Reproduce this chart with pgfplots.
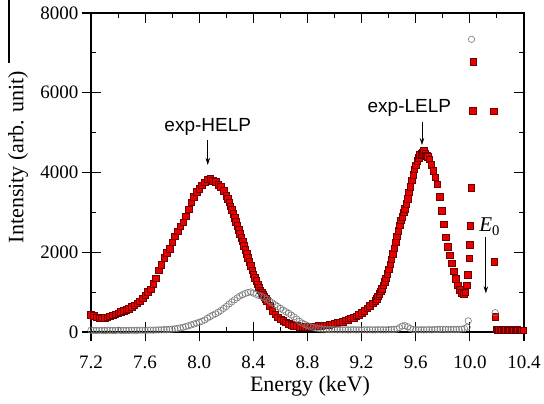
\documentclass[border=0pt]{standalone}
\usepackage{pgfplots}
\pgfplotsset{compat=1.18}
\usepackage{pgfplotstable}
\usepackage{fontspec}
\setmainfont{Liberation Serif}
\newfontfamily\arialfont{Liberation Sans}
\usetikzlibrary{arrows.meta}

\definecolor{sqred}{RGB}{232,0,0}
\definecolor{sqedge}{RGB}{110,0,0}
\definecolor{circgray}{RGB}{120,120,120}

% energy-loss spectrum (red squares)
\pgfplotstableread{
E I
7.20 440
7.22 405
7.24 372
7.26 356
7.28 348
7.30 357
7.32 372
7.34 398
7.36 418
7.38 447
7.40 468
7.42 502
7.44 528
7.46 566
7.48 588
7.50 634
7.52 668
7.54 725
7.56 768
7.58 845
7.60 918
7.62 1005
7.64 1078
7.66 1205
7.68 1348
7.70 1552
7.72 1695
7.74 1858
7.76 1985
7.78 2090
7.80 2248
7.82 2405
7.84 2528
7.86 2655
7.88 2758
7.90 2905
7.92 3075
7.94 3255
7.96 3395
7.98 3525
8.00 3598
8.02 3685
8.04 3755
8.06 3830
8.08 3845
8.10 3790
8.12 3762
8.14 3698
8.16 3645
8.18 3538
8.20 3420
8.21 3338
8.22 3252
8.23 3158
8.24 3072
8.25 2968
8.26 2872
8.27 2768
8.28 2672
8.29 2568
8.30 2472
8.31 2368
8.32 2272
8.33 2158
8.34 2062
8.35 1958
8.36 1862
8.37 1758
8.38 1662
8.39 1548
8.40 1452
8.41 1358
8.42 1282
8.43 1198
8.44 1122
8.45 1048
8.46 992
8.47 928
8.48 882
8.49 828
8.50 782
8.52 662
8.54 528
8.56 442
8.58 368
8.60 322
8.62 278
8.64 242
8.66 208
8.68 182
8.70 163
8.72 152
8.74 138
8.76 136
8.78 128
8.80 132
8.82 134
8.84 141
8.86 144
8.88 152
8.90 154
8.92 166
8.94 174
8.96 186
8.98 198
9.00 216
9.02 228
9.04 247
9.06 263
9.08 292
9.10 313
9.12 342
9.14 363
9.16 392
9.18 428
9.20 482
9.22 528
9.24 592
9.26 658
9.28 722
9.30 792
9.31 838
9.32 902
9.33 958
9.34 1022
9.35 1088
9.36 1172
9.37 1258
9.38 1352
9.39 1462
9.40 1578
9.41 1702
9.42 1828
9.43 1962
9.44 2098
9.45 2252
9.46 2398
9.47 2542
9.48 2678
9.49 2802
9.50 2898
9.51 3002
9.52 3098
9.53 3222
9.54 3348
9.55 3502
9.56 3648
9.57 3802
9.58 3948
9.59 4082
9.60 4178
9.61 4292
9.62 4378
9.63 4442
9.64 4478
9.65 4512
9.66 4560
9.67 4482
9.68 4418
9.69 4392
9.70 4338
9.715 4198
9.73 4052
9.745 3878
9.76 3702
9.775 3398
9.79 3048
9.805 2702
9.82 2378
9.835 2142
9.85 1928
9.865 1722
9.88 1528
9.895 1342
9.91 1178
9.925 1062
9.94 988
9.955 962
9.965 1002
9.975 1178
9.985 1432
9.995 1848
10.000 2182
10.003 2668
10.010 3620
10.020 5550
10.024 6780
10.174 5542
10.180 1763
10.187 384
10.195 68
10.205 58
10.215 52
10.225 55
10.235 48
10.245 52
10.255 46
10.265 50
10.275 47
10.285 52
10.295 45
10.305 48
10.315 50
10.325 44
10.335 47
10.345 50
10.355 45
10.365 46
10.375 43
10.385 47
10.395 44
}\elp

% reference spectrum (open circles)
\pgfplotstableread{
E I
7.20 45
7.22 40
7.24 38
7.26 42
7.28 40
7.30 36
7.32 40
7.34 42
7.36 38
7.38 40
7.40 44
7.42 40
7.44 38
7.46 42
7.48 40
7.50 44
7.52 42
7.54 40
7.56 46
7.58 44
7.60 42
7.62 46
7.64 48
7.66 45
7.68 50
7.70 52
7.72 55
7.74 58
7.76 60
7.78 66
7.80 72
7.82 80
7.84 90
7.86 102
7.88 118
7.90 135
7.92 155
7.94 178
7.96 200
7.98 222
8.00 245
8.02 268
8.04 300
8.06 345
8.08 385
8.10 420
8.12 455
8.14 495
8.16 540
8.18 590
8.20 640
8.22 700
8.24 755
8.26 805
8.28 855
8.30 900
8.32 935
8.34 965
8.36 990
8.38 1005
8.40 975
8.42 945
8.44 915
8.46 895
8.48 860
8.50 820
8.52 775
8.54 730
8.56 685
8.58 640
8.60 595
8.62 550
8.64 510
8.66 470
8.68 425
8.70 380
8.72 325
8.74 270
8.76 225
8.78 190
8.80 160
8.82 138
8.84 118
8.86 100
8.88 88
8.90 80
8.92 72
8.94 66
8.96 62
8.98 60
9.00 58
9.02 55
9.04 58
9.06 54
9.08 56
9.10 52
9.12 55
9.14 57
9.16 53
9.18 55
9.20 52
9.22 56
9.24 54
9.26 57
9.28 53
9.30 55
9.32 58
9.34 54
9.36 56
9.38 55
9.40 58
9.42 60
9.44 62
9.46 72
9.48 110
9.50 150
9.52 158
9.54 130
9.56 85
9.58 62
9.60 58
9.62 55
9.64 57
9.66 54
9.68 56
9.70 58
9.72 55
9.74 60
9.76 62
9.78 66
9.80 70
9.82 66
9.84 62
9.86 60
9.88 62
9.90 64
9.92 66
9.94 72
9.96 85
9.98 120
9.988 278
10.012 7340
10.187 484
}\bare

\pgfplotsset{
  spectrumframe/.style={
    scale only axis, width=433pt, height=319pt,
    xmin=7.2, xmax=10.4, ymin=0, ymax=8000,
    xtick={7.2,7.6,8.0,8.4,8.8,9.2,9.6,10.0,10.4},
    minor xtick={7.4,7.8,8.2,8.6,9.0,9.4,9.8,10.2},
    ytick={0,2000,4000,6000,8000},
    minor ytick={1000,3000,5000,7000},
    axis line style={line width=1.1pt},
    every tick/.style={black, line width=1.1pt},
  }
}

\begin{document}
\begin{tikzpicture}
% inward ticks on all four sides
\begin{axis}[spectrumframe,
  xticklabels={}, yticklabels={},
  tick align=inside, major tick length=10pt, minor tick length=5pt]
\end{axis}
% spectra, labels and crossing major ticks
\begin{axis}[spectrumframe,
  xtick pos=left, ytick pos=left,
  tick align=center, major tick length=18pt, minor tick length=0pt,
  x tick label style={font=\fontsize{19}{22}\selectfont, yshift=-11pt,
    /pgf/number format/.cd, fixed, fixed zerofill, precision=1, assume math mode=true},
  y tick label style={font=\fontsize{19}{22}\selectfont,
    /pgf/number format/.cd, fixed, 1000 sep={}, assume math mode=true},
  xlabel={Energy (keV)}, ylabel={Intensity (arb. unit)},
  every axis x label/.style={at={(axis description cs:0.5058,-0.1693)}, anchor=center,
    font=\fontsize{22}{26}\selectfont},
  every axis y label/.style={at={(axis description cs:-0.1686,0.5486)}, anchor=center,
    rotate=90, font=\fontsize{22}{26}\selectfont},
]
\addplot[only marks, mark=square*, mark size=3.3pt,
  mark options={fill=sqred, draw=sqedge, line width=0.4pt}] table[x=E, y=I] {\elp};
\addplot[only marks, mark=o, mark size=3.2pt,
  mark options={draw=circgray, line width=0.6pt}] table[x=E, y=I] {\bare};

\node[font=\arialfont\fontsize{19}{22}\selectfont, anchor=base, inner sep=0pt]
  at (axis cs:8.063,5028) {exp-HELP};
\draw[-{Stealth[length=7pt,width=4.5pt]}, line width=0.7pt]
  (axis cs:8.063,4815) -- (axis cs:8.063,4190);
\node[font=\arialfont\fontsize{19}{22}\selectfont, anchor=base, inner sep=0pt]
  at (axis cs:9.553,5504) {exp-LELP};
\draw[-{Stealth[length=7pt,width=4.5pt]}, line width=0.7pt]
  (axis cs:9.646,5266) -- (axis cs:9.646,4690);
\node[font=\fontsize{21}{24}\selectfont, anchor=base west, inner sep=0pt]
  at (axis cs:10.069,2508) {\textit{E}\textsubscript{0}};
\draw[-{Stealth[length=7pt,width=4.5pt]}, line width=0.7pt]
  (axis cs:10.118,2390) -- (axis cs:10.118,970);
\end{axis}
\draw[line width=1.2pt] ([shift={(-82pt,13pt)}]current axis.north west)
  -- ([shift={(-82pt,-50pt)}]current axis.north west);
\pgfresetboundingbox
\path[use as bounding box] ([shift={(-91pt,-72pt)}]current axis.south west)
  rectangle ([shift={(20pt,13pt)}]current axis.north east);
\end{tikzpicture}
\end{document}
